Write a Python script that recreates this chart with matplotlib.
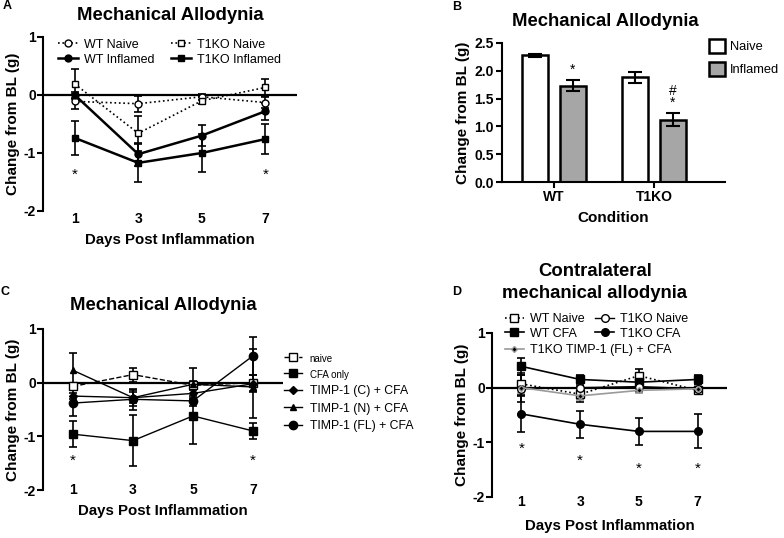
import numpy as np
import matplotlib
matplotlib.use('Agg')
import matplotlib.pyplot as plt

plt.rcParams['font.family'] = ['Liberation Sans', 'DejaVu Sans']

W, H = 784, 538

# ---------------- data ----------------
days = [1, 3, 5, 7]

# panel A
a_wt_naive = [-0.11, -0.15, -0.03, -0.13]
a_wt_naive_err = [0.13, 0.14, 0.05, 0.1]
a_ko_naive = [0.19, -0.66, -0.1, 0.13]
a_ko_naive_err = [0.26, 0.3, 0.06, 0.15]
a_wt_infl = [0.0, -1.02, -0.7, -0.28]
a_wt_infl_err = [0.05, 0.2, 0.18, 0.15]
a_ko_infl = [-0.74, -1.17, -1.0, -0.76]
a_ko_infl_err = [0.3, 0.33, 0.33, 0.26]
a_star_days = [1, 7]

# panel B
b_groups = ['WT', 'T1KO']
b_naive = [2.28, 1.88]
b_naive_err = [0.03, 0.1]
b_infl = [1.73, 1.12]
b_infl_err = [0.1, 0.12]
b_marks = ['*', '#\n*']

# panel C
c_naive = [-0.07, 0.15, -0.05, 0.0]
c_naive_err = [0.06, 0.13, 0.08, 0.15]
c_cfa = [-0.96, -1.08, -0.62, -0.9]
c_cfa_err = [0.24, 0.48, 0.53, 0.15]
c_timp_c = [-0.25, -0.28, -0.2, -0.02]
c_timp_c_err = [0.05, 0.1, 0.08, 0.64]
c_timp_n = [0.23, -0.28, -0.03, -0.08]
c_timp_n_err = [0.33, 0.15, 0.3, 0.1]
c_timp_fl = [-0.38, -0.31, -0.34, 0.5]
c_timp_fl_err = [0.25, 0.2, 0.1, 0.35]
c_star_days = [1, 7]

# panel D
d_wt_naive = [0.07, -0.12, 0.22, -0.05]
d_wt_naive_err = [0.2, 0.15, 0.12, 0.05]
d_ko_naive = [-0.02, 0.0, 0.02, -0.02]
d_ko_naive_err = [0.25, 0.2, 0.1, 0.08]
d_wt_cfa = [0.39, 0.15, 0.1, 0.15]
d_wt_cfa_err = [0.15, 0.08, 0.1, 0.08]
d_ko_cfa = [-0.48, -0.67, -0.8, -0.8]
d_ko_cfa_err = [0.33, 0.25, 0.25, 0.31]
d_timp = [0.0, -0.15, -0.05, -0.02]
d_timp_err = [0.1, 0.08, 0.05, 0.05]
d_star_y = [-1.11, -1.33, -1.48, -1.48]


def px_rect(x0, y0, x1, y1):
    # pixel box (top-left origin) -> figure fraction rect
    return [x0 / W, 1 - y1 / H, (x1 - x0) / W, (y1 - y0) / H]


def ftext(x, y, s, **kw):
    fig.text(x / W, 1 - y / H, s, ha=kw.pop('ha', 'center'), va=kw.pop('va', 'center'), **kw)


def style_time_axes(ax, xpad=2, xlabelpad=7):
    ax.set_xlim(0, 8)
    ax.set_ylim(-2, 1)
    ax.set_yticks([-2, -1, 0, 1])
    ax.set_yticklabels(['-2', '-1', '0', '1'])
    ax.set_xticks(days)
    for s in ['top', 'right', 'bottom']:
        ax.spines[s].set_visible(False)
    ax.spines['left'].set_linewidth(1.5)
    ax.axhline(0, color='black', lw=1.6, zorder=1)
    ax.tick_params(axis='y', direction='out', length=4, width=1.5, labelsize=10, pad=1)
    ax.tick_params(axis='x', length=0, labelsize=10, pad=xpad)
    for t in ax.get_xticklabels() + ax.get_yticklabels():
        t.set_fontweight('bold')
    ax.set_ylabel('Change from BL (g)', fontsize=11, fontweight='bold', labelpad=3)
    ax.set_xlabel('Days Post Inflammation', fontsize=10.8, fontweight='bold', labelpad=xlabelpad)
    ax.patch.set_alpha(0)


def series(ax, y, err, marker, ls, mfc='black', color='black', ms=5, lw=1.2):
    c = ax.errorbar(days, y, yerr=err, fmt=marker, ls=ls, color=color, mfc=mfc, mec=color,
                    ms=ms, lw=lw, elinewidth=1.2, capsize=3, capthick=1.2, zorder=3)
    # only the line+marker goes into the legend
    return c[0]


fig = plt.figure(figsize=(W / 100, H / 100), dpi=100)

# ---------------- A ----------------
ax = fig.add_axes(px_rect(43, 37, 297, 211))
style_time_axes(ax, xpad=0.5, xlabelpad=5)
h1 = series(ax, a_wt_naive, a_wt_naive_err, 'o', ':', mfc='white')
h2 = series(ax, a_wt_infl, a_wt_infl_err, 'o', '-', lw=1.8)
h3 = series(ax, a_ko_naive, a_ko_naive_err, 's', ':', mfc='white')
h4 = series(ax, a_ko_infl, a_ko_infl_err, 's', '-', lw=1.8)
ax.legend([h1, h2, h3, h4], ['WT Naive', 'WT Inflamed', 'T1KO Naive', 'T1KO Inflamed'],
          ncol=2, loc='upper left', bbox_to_anchor=(0.059, 0.99), frameon=False, fontsize=9,
          borderpad=0, borderaxespad=0,
          handlelength=1.6, handletextpad=0.5, columnspacing=1.3, labelspacing=0.25)
for d in a_star_days:
    ax.text(d, -1.38, '*', ha='center', va='center', fontsize=11)
ftext(170, 15, 'Mechanical Allodynia', fontsize=13.3, fontweight='bold')
ftext(7, 6, 'A', fontsize=9, fontweight='bold')

# ---------------- B ----------------
axb = fig.add_axes(px_rect(502, 43, 725, 182))
xpos = np.arange(len(b_groups))
bw = 0.265
off = 0.19
axb.bar(xpos - off, b_naive, bw, yerr=b_naive_err, color='white', edgecolor='black', lw=1.8,
        capsize=5, error_kw=dict(elinewidth=1.5, capthick=1.5), label='Naive')
axb.bar(xpos + off, b_infl, bw, yerr=b_infl_err, color='#a6a6a6', edgecolor='black', lw=1.8,
        capsize=5, error_kw=dict(elinewidth=1.5, capthick=1.5), label='Inflamed')
for i, m in enumerate(b_marks):
    axb.text(xpos[i] + off, b_infl[i] + b_infl_err[i] + 0.06, m, ha='center', va='bottom',
             fontsize=10, linespacing=0.8)
axb.set_xlim(-0.52, 1.71)
axb.set_ylim(0, 2.5)
axb.set_yticks([0, 0.5, 1.0, 1.5, 2.0, 2.5])
axb.set_yticklabels(['0.0', '0.5', '1.0', '1.5', '2.0', '2.5'])
axb.set_xticks(xpos)
axb.set_xticklabels(b_groups)
for s in ['top', 'right']:
    axb.spines[s].set_visible(False)
axb.spines['left'].set_linewidth(1.5)
axb.spines['bottom'].set_linewidth(1.5)
axb.tick_params(direction='out', length=4, width=1.5, labelsize=10, pad=2)
for t in axb.get_xticklabels() + axb.get_yticklabels():
    t.set_fontweight('bold')
axb.set_ylabel('Change from BL (g)', fontsize=11, fontweight='bold', labelpad=3)
axb.set_xlabel('Condition', fontsize=11, fontweight='bold', labelpad=5)
fig.legend(*axb.get_legend_handles_labels(), loc='upper left', bbox_to_anchor=(709 / W, 1 - 39 / H),
           frameon=False, fontsize=9.3, borderpad=0, borderaxespad=0,
           handlelength=1.25, handleheight=1.25, handletextpad=0.35, labelspacing=0.7)
ftext(605, 21, 'Mechanical Allodynia', fontsize=13.3, fontweight='bold')
ftext(457, 7, 'B', fontsize=9, fontweight='bold')

# ---------------- C ----------------
axc = fig.add_axes(px_rect(43, 329, 283, 490))
style_time_axes(axc, xpad=-5.2, xlabelpad=5.5)
g1 = series(axc, c_naive, c_naive_err, 's', '--', mfc='white', ms=6, lw=1.0)
g2 = series(axc, c_cfa, c_cfa_err, 's', '-', ms=6, lw=1.0)
g3 = series(axc, c_timp_c, c_timp_c_err, 'D', '-', ms=4, lw=1.0)
g4 = series(axc, c_timp_n, c_timp_n_err, '^', '-', ms=5, lw=1.0)
g5 = series(axc, c_timp_fl, c_timp_fl_err, 'o', '-', ms=6, lw=1.0)
leg = fig.legend([g1, g2, g3, g4, g5],
                 ['naive', 'CFA only', 'TIMP-1 (C) + CFA', 'TIMP-1 (N) + CFA', 'TIMP-1 (FL) + CFA'],
                 loc='upper left', bbox_to_anchor=(273 / W, 1 - 342 / H), frameon=False, fontsize=8.8,
                 handlelength=1.5, handletextpad=0.6, labelspacing=0.45)
for t in leg.get_texts()[:2]:
    t.set_fontsize(7)
for d in c_star_days:
    axc.text(d, -1.45, '*', ha='center', va='center', fontsize=11)
ftext(163, 305, 'Mechanical Allodynia', fontsize=13.3, fontweight='bold')
ftext(5, 292, 'C', fontsize=9, fontweight='bold')

# ---------------- D ----------------
axd = fig.add_axes(px_rect(492, 333, 727, 497))
style_time_axes(axd, xpad=-1.6, xlabelpad=7.5)
k1 = series(axd, d_wt_naive, d_wt_naive_err, 's', ':', mfc='white', ms=5.5, lw=1.2)
k2 = series(axd, d_wt_cfa, d_wt_cfa_err, 's', '-', ms=5.5, lw=1.2)
k3 = series(axd, d_ko_naive, d_ko_naive_err, 'o', '-', mfc='white', ms=5.5, lw=1.0)
k4 = series(axd, d_ko_cfa, d_ko_cfa_err, 'o', '-', ms=5.5, lw=1.2)
k5 = series(axd, d_timp, d_timp_err, 'D', '-', color='#9a9a9a', ms=3, lw=1.2)
leg1 = axd.legend([k1, k2, k3, k4], ['WT Naive', 'WT CFA', 'T1KO Naive', 'T1KO CFA'], ncol=2,
                  loc='upper left', bbox_to_anchor=(0.055, 1.12), frameon=False, fontsize=9,
                  borderpad=0, borderaxespad=0,
                  handlelength=1.5, handletextpad=0.5, columnspacing=0.85, labelspacing=0.2)
axd.add_artist(leg1)
leg2 = axd.legend([k5], ['T1KO TIMP-1 (FL) + CFA'], loc='upper left', bbox_to_anchor=(0.055, 0.93),
                  frameon=False, fontsize=9, borderpad=0, borderaxespad=0,
                  handlelength=1.5, handletextpad=0.5)
for d, y in zip(days, d_star_y):
    axd.text(d, y, '*', ha='center', va='center', fontsize=11)
ftext(595, 272, 'Contralateral', fontsize=13.3, fontweight='bold')
ftext(595, 293, 'mechanical allodynia', fontsize=13.3, fontweight='bold')
ftext(457, 292, 'D', fontsize=9, fontweight='bold')

fig.savefig('out.png', dpi=100)
